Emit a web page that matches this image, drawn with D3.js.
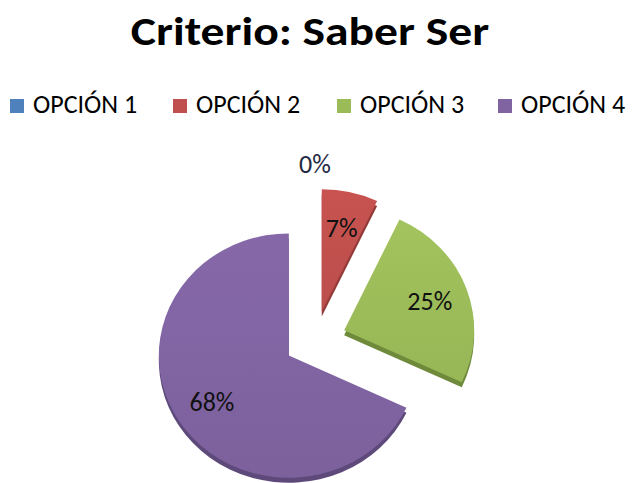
<!DOCTYPE html>
<html>
<head>
<meta charset="utf-8">
<script src="https://cdn.jsdelivr.net/npm/d3@7"></script>
<style>
  body { margin: 0; background: #fff; }
  svg { display: block; }
</style>
</head>
<body>
<svg id="chart" width="634" height="483"></svg>
<script>
var categories = ["OPCIÓN 1", "OPCIÓN 2", "OPCIÓN 3", "OPCIÓN 4"];
var values = [0, 7, 25, 68];
var colors = ["#4F81BD", "#C0504D", "#9BBB59", "#8064A2"];
var sideColors = ["#3A6394", "#923B39", "#6E8A3A", "#5E4A7A"];
var title = "Criterio: Saber Ser";

var svg = d3.select("#chart");
var font = "Carlito, Lato, 'Open Sans', sans-serif";

svg.append("text")
  .attr("transform", "translate(310,45) scale(1.19,1)")
  .attr("text-anchor", "middle")
  .style("font-family", font)
  .style("font-weight", "bold")
  .style("font-size", "40px")
  .text(title);

// legend
var legendX = [10, 173, 337, 498];
var legend = svg.append("g");
categories.forEach(function (c, i) {
  var g = legend.append("g").attr("transform", "translate(" + legendX[i] + ",113)");
  g.append("rect").attr("x", 0).attr("y", -14).attr("width", 14).attr("height", 14).attr("fill", colors[i]);
  g.append("text")
    .attr("x", 23)
    .attr("y", 0)
    .style("font-family", font)
    .style("font-size", "26px")
    .attr("fill", "#000")
    .text(c);
});

// pie
var r = 130, tilt = 0.94, depth = 5, explode = 31;
var cx = 315, cy = 340;

var pie = d3.pie().sort(null).value(function (d) { return d; });
var arcs = pie(values);
var arc = d3.arc().innerRadius(0).outerRadius(r);

var defs = svg.append("defs");
colors.forEach(function (c, i) {
  var gr = defs.append("linearGradient")
    .attr("id", "grad" + i)
    .attr("x1", 0).attr("y1", 0).attr("x2", 0).attr("y2", 1);
  gr.append("stop").attr("offset", "0%").attr("stop-color", d3.color(c).brighter(0.12));
  gr.append("stop").attr("offset", "100%").attr("stop-color", d3.color(c).darker(0.08));
});

function offset(d) {
  var a = (d.startAngle + d.endAngle) / 2;
  return [Math.sin(a) * explode, -Math.cos(a) * explode];
}

var sideLayer = svg.append("g").attr("transform", "translate(" + cx + "," + (cy + depth) + ") scale(1," + tilt + ")");
var topLayer = svg.append("g").attr("transform", "translate(" + cx + "," + cy + ") scale(1," + tilt + ")");

arcs.forEach(function (d, i) {
  if (d.value === 0) return;
  var o = offset(d);
  sideLayer.append("path")
    .attr("d", arc(d))
    .attr("transform", "translate(" + o[0] + "," + o[1] + ")")
    .attr("fill", sideColors[i]);
  topLayer.append("path")
    .attr("d", arc(d))
    .attr("transform", "translate(" + o[0] + "," + o[1] + ")")
    .attr("fill", "url(#grad" + i + ")");
});

// labels
var labelArc = d3.arc().innerRadius(r * 0.7).outerRadius(r * 0.7);
var outerArc = d3.arc().innerRadius(r * 1.2).outerRadius(r * 1.2);
arcs.forEach(function (d) {
  var o = offset(d);
  var p = d.value === 0 ? outerArc.centroid(d) : labelArc.centroid(d);
  svg.append("text")
    .attr("x", cx + p[0] + o[0])
    .attr("y", cy + (p[1] + o[1]) * tilt)
    .attr("dy", "0.35em")
    .attr("text-anchor", "middle")
    .style("font-family", font)
    .style("font-size", "26px")
    .attr("fill", d.value === 0 ? "#1F2A44" : "#111")
    .text(Math.round(d.value) + "%");
});
</script>
</body>
</html>
